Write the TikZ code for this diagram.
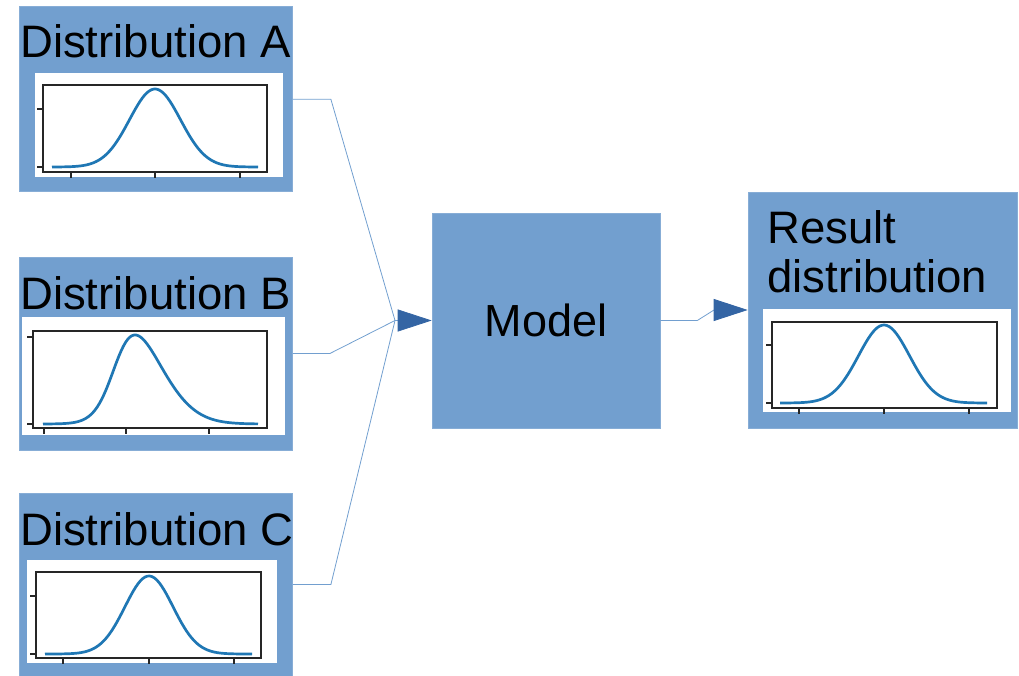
\documentclass[tikz,border=0pt]{standalone}
\usepackage{fontspec}
\setmainfont{Liberation Sans}
\usetikzlibrary{arrows.meta,positioning}
\definecolor{boxblue}{HTML}{729FCF}
\definecolor{tipblue}{HTML}{3465A4}
\definecolor{curveblue}{HTML}{1F77B4}
\tikzset{
    block/.style={fill=boxblue, draw=boxblue!85!white, line width=0.6pt, inner sep=0pt},
    title/.style={anchor=base west, inner sep=0pt, align=left,
        font=\fontsize{45.5}{49}\selectfont},
    link/.style={draw=boxblue, line width=0.8pt},
    flow/.style={link, -{Triangle[length=34pt, width=22pt, color=tipblue]}},
    panel/.style={fill=white, draw=none},
    axes/.style={draw=black!85, line width=1.4pt},
    tickmark/.style={draw=black!85, line width=1.2pt},
    curve/.style={draw=curveblue, line width=2.7pt, line join=round}
}

\begin{document}
\begin{tikzpicture}[x=1pt, y=-1pt]
    \useasboundingbox (0,0) rectangle (1019,676);

    \coordinate (join) at (395,320.5);
    \coordinate (bend) at (714,310);

    % input distributions
    \node[block, minimum width=273pt, minimum height=185pt] (distA) at (156.1,99.3) {};
    \node[block, minimum width=273pt, minimum height=193pt] (distB) at (156.1,353.5) {};
    \node[block, minimum width=273pt, minimum height=183pt] (distC) at (156.1,584.5) {};
    \node[block, minimum width=228pt, minimum height=215pt,
        font=\fontsize{45}{49}\selectfont] (model) at (546,320.5) {Model};
    \node[block, minimum width=269pt, minimum height=236pt] (result) at (882.5,310) {};

    \node[title] (titleA) at (20,58) {Distribution A};
    \node[title] (titleB) at (20,309) {Distribution B};
    \node[title] (titleC) at (20,545) {Distribution C};
    \node[title] (titleR) at (767,292) {Result\\distribution};

    % plot A
    \fill[panel] (35,73) rectangle (283,177);
    \draw[curve] plot[domain=52:258, samples=90] (\x, {167-78*exp(-0.5*((\x-155)/25.5)^2)});
    \draw[axes] (43,85) rectangle (267,172);
    \foreach \t in {109,167} \draw[tickmark] (43,\t) -- ++(-6,0);
    \foreach \t in {71,155,240} \draw[tickmark] (\t,172) -- ++(0,6);

    % plot B (skewed)
    \fill[panel] (22,317) rectangle (285,435);
    \draw[curve] plot[domain=43:258, samples=100]
        (\x, {424-119.3*exp(-0.5*((\x-115.7)/38)^2)/(1+exp(-3.404*(\x-115.7)/38))});
    \draw[axes] (33,331) rectangle (267,428);
    \foreach \t in {337,424} \draw[tickmark] (33,\t) -- ++(-6,0);
    \foreach \t in {44,126,209} \draw[tickmark] (\t,428) -- ++(0,6);

    % plot C
    \fill[panel] (27,560) rectangle (277,663);
    \draw[curve] plot[domain=45:252, samples=90] (\x, {654-78*exp(-0.5*((\x-149)/24)^2)});
    \draw[axes] (36,572) rectangle (261,658);
    \foreach \t in {596,654} \draw[tickmark] (36,\t) -- ++(-6,0);
    \foreach \t in {63,149,234} \draw[tickmark] (\t,658) -- ++(0,6);

    % result plot
    \fill[panel] (763,309) rectangle (1011,412);
    \draw[curve] plot[domain=780:987, samples=90] (\x, {403-78*exp(-0.5*((\x-884)/25.5)^2)});
    \draw[axes] (772,322) rectangle (997,408);
    \foreach \t in {345,403} \draw[tickmark] (772,\t) -- ++(-6,0);
    \foreach \t in {799,884,969} \draw[tickmark] (\t,408) -- ++(0,6);

    % connectors
    \draw[link] (distA.east) -- ++(38,0) -- (join);
    \draw[link] (distB.east) -- ++(37,0) -- (join);
    \draw[link] (distC.east) -- ++(38,0) -- (join);
    \draw[flow] (join) -- (model.west);
    \draw[link] (model.east) -- ++(37,0) -- (bend);
    \draw[flow] (bend) -- (result.west);
\end{tikzpicture}
\end{document}
